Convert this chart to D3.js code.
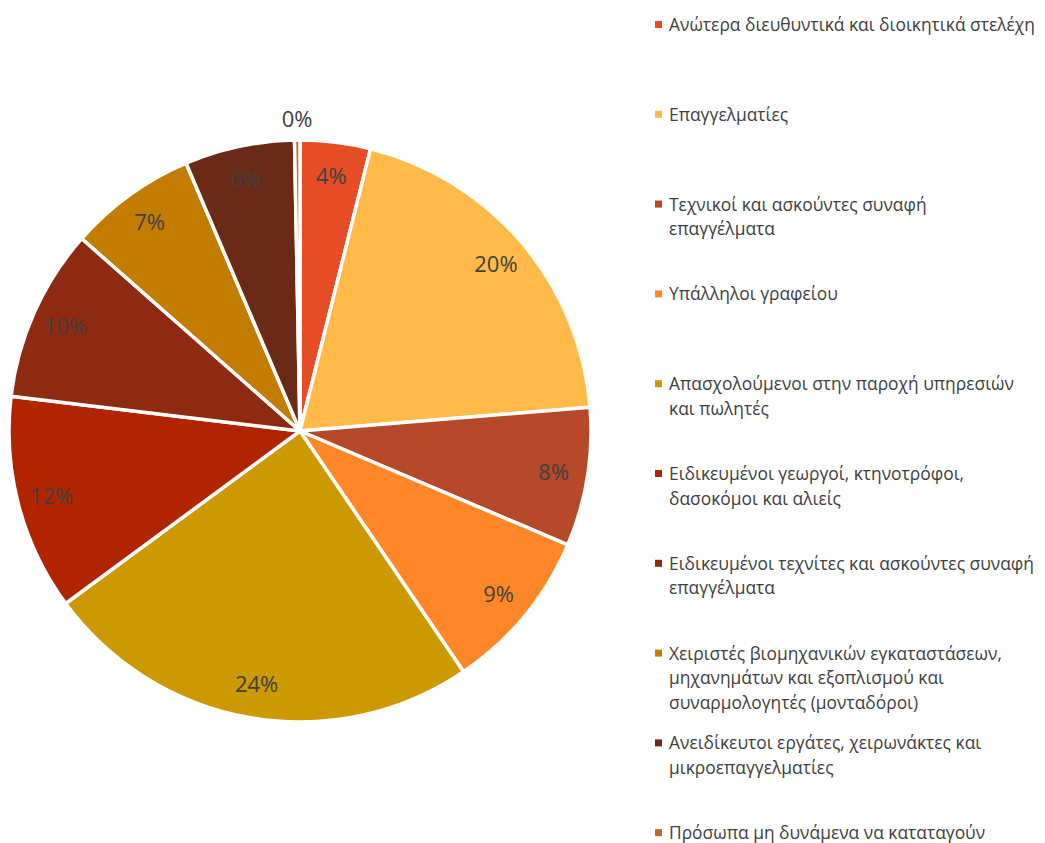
<!DOCTYPE html>
<html>
<head>
<meta charset="utf-8">
<script src="https://cdn.jsdelivr.net/npm/d3@7"></script>
<style>
  body { margin: 0; background: #fff; }
  text { font-family: "Open Sans", "Noto Sans", sans-serif; }
</style>
</head>
<body>
<div id="chart"></div>
<script>
// categories (legend order = slice order, clockwise from top)
const categories = [
    "Ανώτερα διευθυντικά και διοικητικά στελέχη",
    "Επαγγελματίες",
    "Τεχνικοί και ασκούντες συναφή\nεπαγγέλματα",
    "Υπάλληλοι γραφείου",
    "Απασχολούμενοι στην παροχή υπηρεσιών\nκαι πωλητές",
    "Ειδικευμένοι γεωργοί, κτηνοτρόφοι,\nδασοκόμοι και αλιείς",
    "Ειδικευμένοι τεχνίτες και ασκούντες συναφή\nεπαγγέλματα",
    "Χειριστές βιομηχανικών εγκαταστάσεων,\nμηχανημάτων και εξοπλισμού και\nσυναρμολογητές (μονταδόροι)",
    "Ανειδίκευτοι εργάτες, χειρωνάκτες και\nμικροεπαγγελματίες",
    "Πρόσωπα μη δυνάμενα να καταταγούν"
];
// shares in percent
const values = [3.9, 19.8, 7.7, 9.1, 24.4, 12.0, 9.6, 7.1, 6.1, 0.3];
const colors = ["#E64D25", "#FFBA49", "#B5492A", "#FF8728", "#CC9900",
                "#B02500", "#8E2912", "#C27D00", "#6B2A18", "#C5652B"];

const W = 1045, H = 843;
const cx = 300, cy = 431, radius = 291;

const svg = d3.select("#chart").append("svg")
    .attr("width", W)
    .attr("height", H);

const data = categories.map((c, i) => ({name: c, value: values[i], color: colors[i]}));
const total = d3.sum(values);

const pie = d3.pie().sort(null).value(d => d.value);
const arc = d3.arc().innerRadius(0).outerRadius(radius);
const labelArc = d3.arc().innerRadius(257).outerRadius(257);
const outerLabelArc = d3.arc().innerRadius(312).outerRadius(312);

const g = svg.append("g").attr("transform", `translate(${cx},${cy})`);

const arcs = pie(data);

g.selectAll("path.slice")
    .data(arcs)
    .enter().append("path")
    .attr("class", "slice")
    .attr("d", arc)
    .style("fill", d => d.data.color)
    .style("stroke", "#fff")
    .style("stroke-width", 3.5)
    .style("stroke-linejoin", "round");

// percent labels, tiny slices go outside
g.selectAll("text.pct")
    .data(arcs)
    .enter().append("text")
    .attr("class", "pct")
    .attr("transform", d => {
        const p = (d.data.value / total < 0.01 ? outerLabelArc : labelArc).centroid(d);
        return `translate(${p[0]},${p[1]})`;
    })
    .attr("text-anchor", "middle")
    .attr("dy", "0.35em")
    .style("font-size", "22px")
    .style("fill", "#404040")
    .text(d => Math.round(d.data.value / total * 100) + "%");

// legend
const legend = svg.append("g").attr("transform", "translate(655,0)");
const rowStep = 89.8, firstRow = 25, lineH = 24.6;

const items = legend.selectAll("g.item")
    .data(data)
    .enter().append("g")
    .attr("class", "item")
    .attr("transform", (d, i) => `translate(0,${firstRow + i * rowStep})`);

items.append("rect")
    .attr("x", 0)
    .attr("y", -4)
    .attr("width", 7)
    .attr("height", 7)
    .style("fill", d => d.color);

items.append("text")
    .attr("x", 14)
    .style("font-size", "17.4px")
    .style("fill", "#404040")
    .each(function(d) {
        const lines = d.name.split("\n");
        d3.select(this).selectAll("tspan")
            .data(lines)
            .enter().append("tspan")
            .attr("x", 14)
            .attr("y", (l, j) => j * lineH)
            .attr("dy", "0.35em")
            .text(l => l);
    });
</script>
</body>
</html>
